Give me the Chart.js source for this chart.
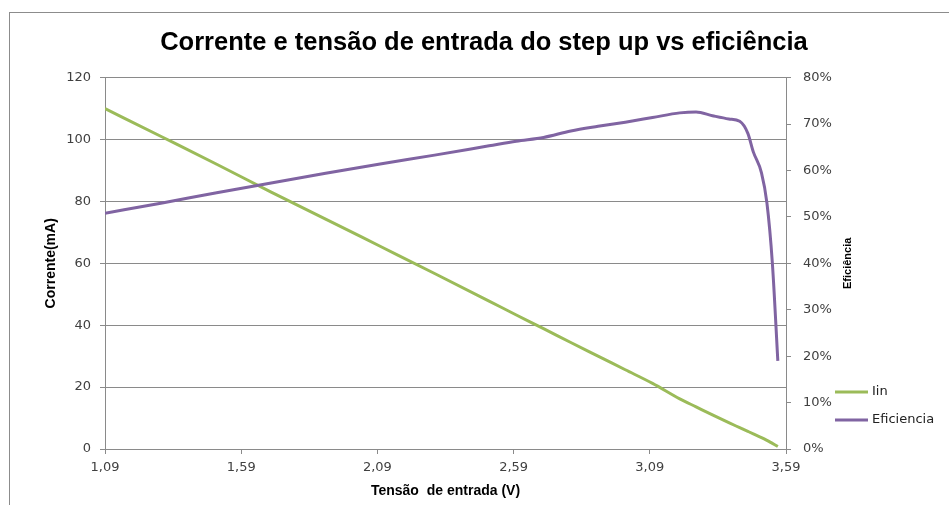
<!DOCTYPE html>
<html>
<head>
<meta charset="utf-8">
<title>Corrente e tensão de entrada do step up vs eficiência</title>
<script src="https://cdn.jsdelivr.net/npm/chart.js@4/dist/chart.umd.min.js"></script>
<style>
  html, body { margin: 0; padding: 0; background: #fff; }
  #wrap { width: 949px; height: 505px; }
</style>
</head>
<body>
<div id="wrap"><canvas id="chart" width="949" height="505"></canvas></div>
<script>
// Input voltage (V) of each reading
const tensao = [1.09, 1.30, 1.50, 1.70, 1.90, 2.10, 2.30, 2.50, 2.60, 2.70, 2.80, 2.90, 3.00,
  3.10, 3.20, 3.26, 3.32, 3.38, 3.42, 3.45, 3.47, 3.50, 3.52, 3.54, 3.56];

// Input current (mA)
const corrente = [110, 100.8, 92, 83, 74.3, 65.5, 56.7, 47.8, 43.3, 38.9, 34.4, 30, 25.6,
  21.2, 16.2, 13.6, 11.0, 8.5, 6.9, 5.7, 4.9, 3.7, 2.8, 1.8, 0.8];

// Efficiency (%)
const eficiencia = [50.8, 53.0, 55.2, 57.3, 59.4, 61.4, 63.3, 65.3, 66.3, 67.1, 68.5, 69.5, 70.4,
  71.4, 72.4, 72.6, 71.8, 71.1, 70.6, 68.0, 64.0, 59.5, 53.0, 40.0, 19.0];

const xTicks = [1.09, 1.59, 2.09, 2.59, 3.09, 3.59];
const seriesNames = ['Iin', 'Eficiencia'];
const seriesColors = ['#9BBB59', '#8064A2'];

const gridColor = '#8a8a8a';
const tickColor = '#404040';
const tickFont = { family: '"DejaVu Sans"', size: 13 };
const titleFont = { family: '"Liberation Sans"', size: 14, weight: 'bold' };

// white background, outer frame, right axis title and the legend
const chartFrame = {
  id: 'chartFrame',
  beforeDraw(chart) {
    const ctx = chart.ctx;
    ctx.save();
    ctx.fillStyle = '#fff';
    ctx.fillRect(0, 0, chart.width, chart.height);
    ctx.strokeStyle = '#8c8c8c';
    ctx.lineWidth = 1;
    ctx.strokeRect(9.5, 12.5, chart.width + 10, chart.height + 10);
    ctx.restore();
  },
  afterDraw(chart) {
    const ctx = chart.ctx;
    const area = chart.chartArea;
    ctx.save();
    ctx.translate(848, (area.top + area.bottom) / 2);
    ctx.rotate(-Math.PI / 2);
    ctx.font = 'bold 11px "Liberation Sans"';
    ctx.fillStyle = '#000';
    ctx.textAlign = 'center';
    ctx.textBaseline = 'middle';
    ctx.fillText('Eficiência', 0, 0);
    ctx.restore();

    ctx.save();
    ctx.font = '13px "DejaVu Sans"';
    ctx.textBaseline = 'middle';
    ctx.lineWidth = 3;
    seriesNames.forEach((name, i) => {
      const y = 392 + i * 28;
      ctx.strokeStyle = seriesColors[i];
      ctx.beginPath();
      ctx.moveTo(835, y);
      ctx.lineTo(868, y);
      ctx.stroke();
      ctx.fillStyle = '#222';
      ctx.fillText(name, 872, y);
    });
    ctx.restore();
  }
};

const ctx = document.getElementById('chart').getContext('2d');
new Chart(ctx, {
  type: 'line',
  data: {
    datasets: [
      {
        label: seriesNames[0],
        data: tensao.map((v, i) => ({ x: v, y: corrente[i] })),
        borderColor: seriesColors[0],
        borderWidth: 3,
        pointRadius: 0,
        cubicInterpolationMode: 'monotone',
        yAxisID: 'y',
        order: 1
      },
      {
        label: seriesNames[1],
        data: tensao.map((v, i) => ({ x: v, y: eficiencia[i] })),
        borderColor: seriesColors[1],
        borderWidth: 3,
        pointRadius: 0,
        cubicInterpolationMode: 'monotone',
        yAxisID: 'y1',
        order: 0
      }
    ]
  },
  options: {
    responsive: false,
    animation: false,
    devicePixelRatio: 1,
    layout: { padding: { left: 19, top: 12, right: 0, bottom: 0 } },
    plugins: {
      legend: { display: false },
      tooltip: { enabled: false },
      title: {
        display: true,
        text: 'Corrente e tensão de entrada do step up vs eficiência',
        color: '#000',
        font: { family: '"Liberation Sans"', size: 25.5, weight: 'bold' },
        padding: { top: 16, bottom: 19 }
      }
    },
    scales: {
      x: {
        type: 'linear',
        min: 1.09,
        max: 3.59,
        afterBuildTicks: scale => {
          scale.ticks = xTicks.map(v => ({ value: v }));
        },
        afterFit: scale => { scale.height = 56; },
        ticks: {
          color: tickColor,
          font: tickFont,
          padding: 6,
          maxRotation: 0,
          callback: v => v.toFixed(2).replace('.', ',')
        },
        grid: { drawOnChartArea: false, color: gridColor, tickLength: 5 },
        border: { color: gridColor },
        title: {
          display: true,
          text: 'Tensão  de entrada (V)',
          color: '#000',
          font: titleFont,
          padding: { top: 0, bottom: 5 }
        }
      },
      y: {
        position: 'left',
        min: 0,
        max: 120,
        afterFit: scale => { scale.width = 86; },
        ticks: { stepSize: 20, color: tickColor, font: tickFont, padding: 9 },
        grid: { color: gridColor, tickLength: 5 },
        border: { color: gridColor },
        title: {
          display: true,
          text: 'Corrente(mA)',
          color: '#000',
          font: titleFont,
          padding: { top: 24, bottom: 0 }
        }
      },
      y1: {
        position: 'right',
        min: 0,
        max: 80,
        afterFit: scale => { scale.width = 163; },
        ticks: {
          stepSize: 10,
          color: tickColor,
          font: tickFont,
          padding: 12,
          callback: v => v + '%'
        },
        grid: { drawOnChartArea: false, color: gridColor, tickLength: 5 },
        border: { color: gridColor }
      }
    }
  },
  plugins: [chartFrame]
});
</script>
</body>
</html>
